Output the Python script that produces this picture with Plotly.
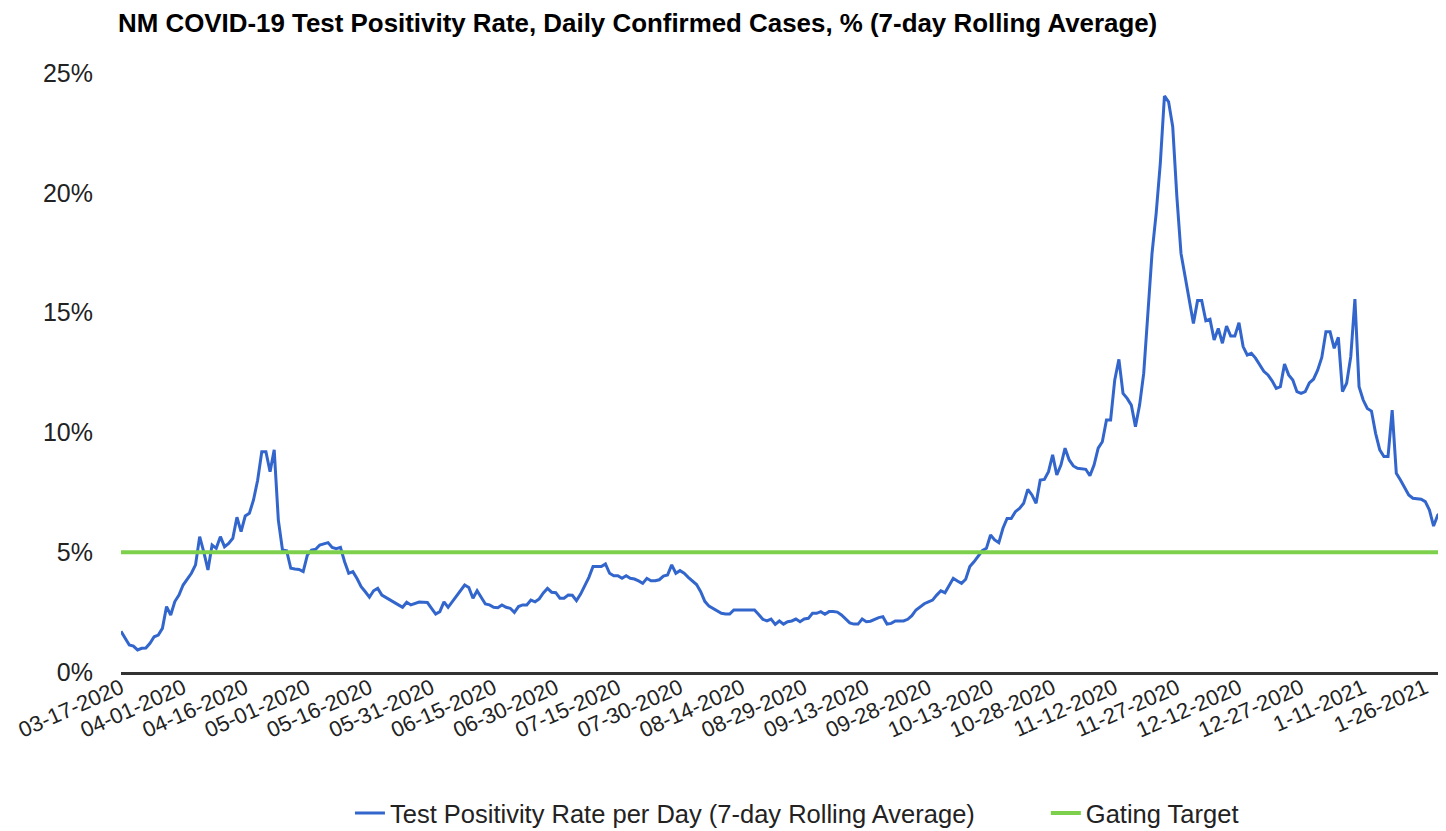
import pandas as pd
import plotly.graph_objects as go

# ---- data -------------------------------------------------------------
start_date = "2020-03-17"
end_date = "2021-01-31"

positivity_rate = [
    1.7, 1.4, 1.13, 1.08, 0.92, 0.99, 1.0, 1.2, 1.47, 1.54,
    1.82, 2.73, 2.38, 2.94, 3.21, 3.63, 3.9, 4.12, 4.47, 5.65,
    5.0, 4.26, 5.3, 5.16, 5.65, 5.23, 5.37, 5.58, 6.46, 5.86,
    6.51, 6.62, 7.18, 8.0, 9.19, 9.19, 8.36, 9.27, 6.34, 5.09,
    5.06, 4.33, 4.3, 4.28, 4.19, 4.88, 5.09, 5.12, 5.3, 5.34,
    5.4, 5.2, 5.15, 5.2, 4.6, 4.12, 4.19, 3.9, 3.56, 3.35,
    3.12, 3.39, 3.49, 3.21, 3.1, 3.0, 2.9, 2.8, 2.7, 2.91,
    2.8, 2.85, 2.92, 2.91, 2.9, 2.66, 2.42, 2.52, 2.93, 2.7,
    2.93, 3.15, 3.4, 3.63, 3.53, 3.08, 3.39, 3.1, 2.84, 2.8,
    2.7, 2.68, 2.8, 2.7, 2.66, 2.49, 2.73, 2.8, 2.8, 3.0,
    2.93, 3.05, 3.3, 3.49, 3.33, 3.31, 3.08, 3.08, 3.21, 3.2,
    2.98, 3.25, 3.6, 3.95, 4.4, 4.4, 4.4, 4.51, 4.12, 4.02,
    4.02, 3.91, 4.02, 3.91, 3.88, 3.8, 3.7, 3.91, 3.81, 3.81,
    3.85, 4.0, 4.05, 4.47, 4.12, 4.23, 4.12, 3.95, 3.8, 3.65,
    3.35, 2.95, 2.75, 2.66, 2.55, 2.45, 2.42, 2.42, 2.59, 2.59,
    2.59, 2.59, 2.59, 2.59, 2.4, 2.2, 2.13, 2.21, 1.99, 2.13,
    2.0, 2.1, 2.13, 2.21, 2.1, 2.21, 2.24, 2.45, 2.45, 2.52,
    2.41, 2.52, 2.52, 2.5, 2.38, 2.2, 2.05, 2.0, 2.0, 2.21,
    2.1, 2.12, 2.2, 2.27, 2.31, 2.0, 2.03, 2.13, 2.13, 2.13,
    2.2, 2.35, 2.59, 2.73, 2.85, 2.93, 3.0, 3.21, 3.39, 3.31,
    3.6, 3.91, 3.8, 3.7, 3.87, 4.4, 4.6, 4.85, 5.06, 5.16,
    5.72, 5.51, 5.4, 6.0, 6.41, 6.41, 6.69, 6.83, 7.04, 7.62,
    7.39, 7.04, 8.01, 8.04, 8.36, 9.06, 8.22, 8.64, 9.34, 8.85,
    8.6, 8.5, 8.48, 8.46, 8.19, 8.64, 9.34, 9.61, 10.52, 10.52,
    12.19, 13.05, 11.63, 11.42, 11.14, 10.24, 11.14, 12.47, 14.97, 17.47,
    19.14, 21.23, 24.04, 23.8, 22.76, 19.84, 17.47, 16.5, 15.46, 14.55,
    15.5, 15.5, 14.66, 14.72, 13.86, 14.34, 13.72, 14.44, 14.02, 14.02,
    14.58, 13.58, 13.23, 13.3, 13.1, 12.8, 12.55, 12.4, 12.15, 11.84,
    11.91, 12.85, 12.4, 12.19, 11.7, 11.63, 11.7, 12.07, 12.22, 12.6,
    13.13, 14.2, 14.2, 13.51, 13.97, 11.7, 12.05, 13.16, 15.56, 11.91,
    11.35, 11.0, 10.89, 9.96, 9.27, 8.99, 8.99, 10.93, 8.29, 8.01,
    7.67, 7.39, 7.25, 7.22, 7.21, 7.11, 6.76, 6.09, 6.55, 6.69,
    6.2,
]

gating_target_value = 5.0
y_tick_values = [0, 5, 10, 15, 20, 25]
y_tick_labels = ["0%", "5%", "10%", "15%", "20%", "25%"]
tick_every = 15

# ---- categories -------------------------------------------------------
dates = pd.date_range(start_date, end_date, freq="D")


def fmt(d):
    if d.year == 2020:
        return d.strftime("%m-%d-%Y")
    return f"{d.month}-{d.day:02d}-{d.year}"


categories = [fmt(d) for d in dates]
gating_target = [gating_target_value] * len(categories)
tick_labels = categories[::tick_every]

FONT = "Liberation Sans, Arial, sans-serif"

# the page body adds an 8px margin, so the figure is laid out 8px smaller
W, H = 1438, 823

fig = go.Figure()
fig.add_trace(go.Scatter(
    x=categories, y=positivity_rate, mode="lines",
    name="Test Positivity Rate per Day (7-day Rolling Average)",
    line=dict(color="#3366cc", width=3),
    legend="legend",
))
fig.add_trace(go.Scatter(
    x=categories, y=gating_target, mode="lines",
    name="Gating Target",
    line=dict(color="#7dd04c", width=4),
    legend="legend2",
))

legend_common = dict(
    orientation="h", xanchor="left",
    y=-0.236, yanchor="middle",
    font=dict(family=FONT, size=25.5, color="#222222"),
    bgcolor="rgba(0,0,0,0)",
)

fig.update_layout(
    width=W, height=H,
    paper_bgcolor="white", plot_bgcolor="white",
    margin=dict(l=113, r=0, t=65, b=159, autoexpand=False),
    font=dict(family=FONT, color="#222222"),
    title=dict(
        text="<b>NM COVID-19 Test Positivity Rate, Daily Confirmed Cases, % (7-day Rolling Average)</b>",
        x=110 / W, xanchor="left", xref="container",
        y=1 - 15 / H, yanchor="middle", yref="container",
        font=dict(family=FONT, size=25.9, color="#000000"),
    ),
    showlegend=True,
    legend=dict(x=0.1728, **legend_common),
    legend2=dict(x=0.698, **legend_common),
)

fig.update_xaxes(
    type="category",
    range=[0, len(categories) - 1],
    tickmode="array", tickvals=tick_labels, ticktext=tick_labels,
    tickangle=-24,
    tickfont=dict(family=FONT, size=22, color="#222222"),
    ticklabelstandoff=-8,
    showgrid=False, zeroline=False,
    showline=True, linecolor="#333333", linewidth=2.5,
    ticks="", automargin=False,
)
fig.update_yaxes(
    range=[0, 25],
    tickmode="array", tickvals=y_tick_values, ticktext=y_tick_labels,
    tickfont=dict(family=FONT, size=25, color="#222222"),
    showgrid=False, zeroline=False, showline=False,
    ticks="outside", ticklen=22, tickcolor="rgba(0,0,0,0)",
    automargin=False,
)

fig.write_html("out.html")
